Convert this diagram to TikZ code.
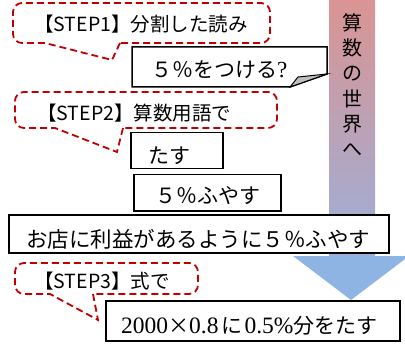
\documentclass[tikz,border=0pt]{standalone}
\usepackage{fontspec}
\newfontfamily\jp{Noto Sans CJK JP}
\newfontfamily\lser{Liberation Serif}
\definecolor{calred}{HTML}{C00000}
\definecolor{arrtop}{HTML}{DA9493}
\definecolor{arrbot}{HTML}{9CB0DA}
\definecolor{arrhead}{HTML}{8DB4E2}
\definecolor{flapgray}{HTML}{BFBFBF}
\tikzset{
  callout/.style={draw=calred, line width=1.8pt, dash pattern=on 7pt off 4pt},
  txtbox/.style={draw=black, line width=1.5pt, fill=white, inner sep=0, anchor=north west},
  steptext/.style={font=\jp\fontsize{19.5}{20}\selectfont, anchor=west, inner sep=0},
  boxtext/.style={font=\jp\fontsize{21}{21}\selectfont, anchor=west, inner sep=0},
  vtext/.style={font=\jp\fontsize{20}{20}\selectfont, inner sep=0}
}
\begin{document}
\begin{tikzpicture}[x=1pt,y=-1pt]
\useasboundingbox[fill=white] (0,0) rectangle (405,345);
% big arrow
\shade[top color=arrtop, bottom color=arrbot] (329,0) rectangle (375,257);
\fill[arrhead] (293,256) -- (409,256) -- (351,300) -- cycle;
\foreach \c [count=\i] in {算,数,の,世,界,へ}
  \node[vtext, name=v\i] at (352,{23+25.4*(\i-1)}) {\c};
% callout 1
\draw[callout] (120,43) -- (112,60) -- (45,43) [rounded corners=9pt] -- (13,43) -- (13,3) -- (270,3) -- (270,43) [sharp corners] -- cycle;
\node[steptext] (s1) at (34,24) {【STEP1】分割した読み};
% box 1 folded
\coordinate (f1) at (290,87);
\coordinate (f2) at (327,74);
\coordinate (f3) at (298,77);
\draw[line width=1.5pt, fill=white, line join=miter] (132,47) -- (327,47) -- (f2) -- (f1) -- (132,87) -- cycle;
\draw[line width=1pt, fill=flapgray] (f1) -- (f3) -- (f2) -- cycle;
\node[boxtext] (t1) at (151,70) {５％をつける{\lser\fontsize{23}{23}\selectfont ?}};
% callout 2
\draw[callout] (123,128) -- (117,152) -- (55,128) [rounded corners=9pt] -- (15,128) -- (15,92) -- (277,92) -- (277,128) [sharp corners] -- cycle;
\node[steptext] (s2) at (37,113) {【STEP2】算数用語で};
% box 2
\node[txtbox, minimum width=92pt, minimum height=36pt] (b2) at (130,132) {};
\node[boxtext] (t2) at (148,156) {たす};
% box 3
\node[txtbox, minimum width=147pt, minimum height=36pt] (b3) at (133,174) {};
\node[boxtext] (t3) at (155,196) {５％ふやす};
% box 4
\node[txtbox, minimum width=380pt, minimum height=38pt] (b4) at (8,214) {};
\node[boxtext, font=\jp\fontsize{21.5}{21.5}\selectfont] (t4) at (26,239) {お店に利益があるように５％ふやす};
% callout 3
\draw[callout] (93,294) -- (98,320) -- (50,294) [rounded corners=9pt] -- (15,294) -- (15,263) -- (198,263) -- (198,294) [sharp corners] -- cycle;
\node[steptext] (s3) at (34,281) {【STEP3】式で};
% box 5
\node[txtbox, minimum width=294pt, minimum height=40pt] (b5) at (105,300) {};
\node[boxtext] (t5) at (121,326) {{\lser\fontsize{23.5}{23.5}\selectfont 2000}×{\lser\fontsize{23.5}{23.5}\selectfont 0.8}\hspace{3pt}に\hspace{2pt}{\lser\fontsize{23.5}{23.5}\selectfont 0.5\%}分をたす};
\end{tikzpicture}
\end{document}
